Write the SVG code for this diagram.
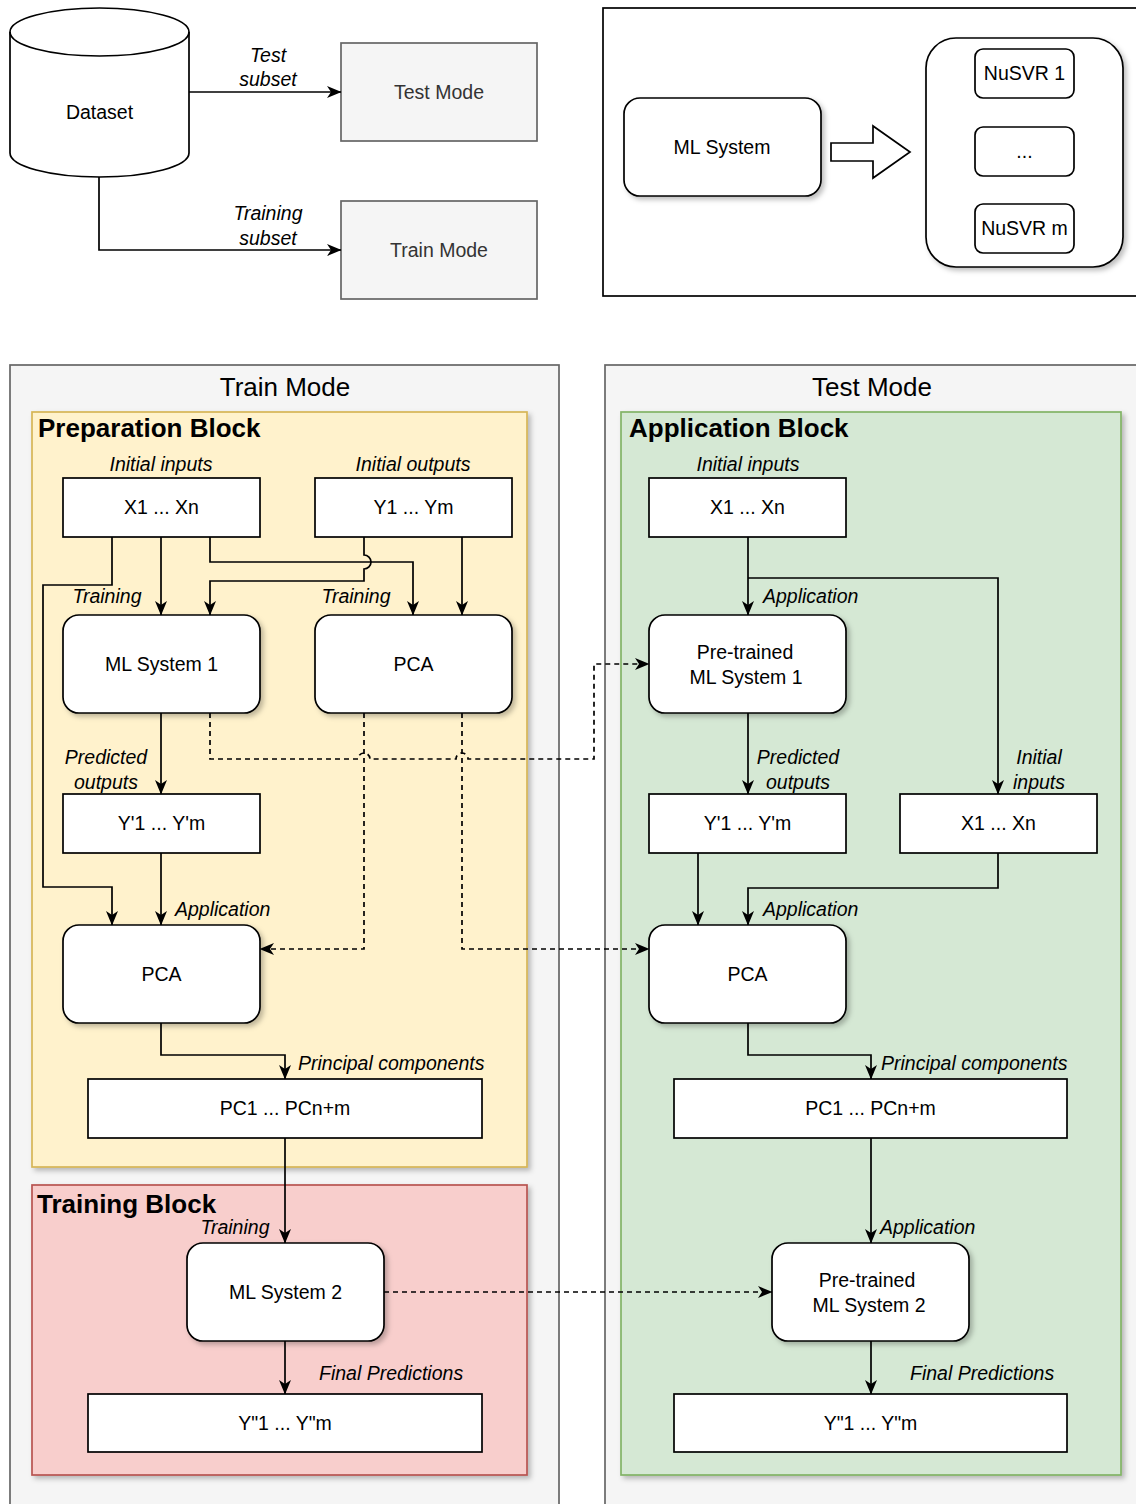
<svg xmlns="http://www.w3.org/2000/svg" width="1136" height="1504" viewBox="0 0 1136 1504">
<defs>
<filter id="sh" x="-10%" y="-10%" width="130%" height="130%">
<feDropShadow dx="3" dy="3" stdDeviation="2.5" flood-color="#000" flood-opacity="0.25"/>
</filter>
<marker id="ah" markerUnits="userSpaceOnUse" markerWidth="15" markerHeight="15" viewBox="0 0 15 15" refX="14" refY="7.5" orient="auto">
<path d="M0,1.5 L14.5,7.5 L0,13.5 L4,7.5 Z" fill="#000"/>
</marker>
</defs>
<style>
text{font-family:"Liberation Sans",Arial,Helvetica,sans-serif;font-size:19.5px;fill:#000}
.c{text-anchor:middle}
.i{font-style:italic}
.t{font-size:26px;font-weight:bold}
.h{font-size:26px}
.g{fill:#333}
.box{fill:#fff;stroke:#000;stroke-width:1.7}
.rr{fill:#fff;stroke:#000;stroke-width:1.7;filter:url(#sh)}
.mode{fill:#f5f5f5;stroke:#666;stroke-width:1.7}
.ln{fill:none;stroke:#000;stroke-width:1.7}
.a{marker-end:url(#ah)}
.d{stroke-dasharray:5 4}
</style>
<rect width="1136" height="1504" fill="#fff"/>

<!-- Top-left -->
<g id="dataset">
<path d="M10,32 A89.5,24 0 0 1 189,32 V153 A89.5,24 0 0 1 10,153 Z" class="box"/>
<path d="M10,32 A89.5,24 0 0 0 189,32" class="ln"/>
<text x="99.5" y="119" class="c">Dataset</text>
</g>
<g id="testModeBox">
<rect x="341" y="43" width="196" height="98" class="mode"/>
<text x="439" y="99" class="c g">Test Mode</text>
</g>
<g id="trainModeBox">
<rect x="341" y="201" width="196" height="98" class="mode"/>
<text x="439" y="257" class="c g">Train Mode</text>
</g>

<!-- Top-right -->
<g id="mlOverview">
<rect x="603" y="8" width="545" height="288" fill="#fff" stroke="#000" stroke-width="1.7"/>
</g>
<g id="mlSystem">
<rect x="624" y="98" width="197" height="98" rx="16" class="rr"/>
<text x="722" y="154" class="c">ML System</text>
</g>
<g id="blockArrow">
<polygon points="831,143 873,143 873,126 910,152 873,178 873,161 831,161" fill="#fff" stroke="#000" stroke-width="1.7"/>
</g>
<g id="nusvrGroup">
<rect x="926" y="38" width="197" height="229" rx="30" class="rr"/>
</g>
<g id="nusvr1">
<rect x="975" y="49" width="99" height="49" rx="8" class="box"/>
<text x="1024.5" y="80" class="c">NuSVR 1</text>
</g>
<g id="nusvrDots">
<rect x="975" y="127" width="99" height="49" rx="8" class="box"/>
<text x="1024.5" y="158" class="c">...</text>
</g>
<g id="nusvrM">
<rect x="975" y="204" width="99" height="49" rx="8" class="box"/>
<text x="1024.5" y="235" class="c">NuSVR m</text>
</g>

<!-- Containers -->
<g id="trainMode">
<rect x="10" y="365" width="549" height="1150" class="mode"/>
<text x="285" y="396" class="c h">Train Mode</text>
</g>
<g id="testMode">
<rect x="605" y="365" width="545" height="1150" class="mode"/>
<text x="872" y="396" class="c h">Test Mode</text>
</g>
<g id="preparationBlock">
<rect x="32" y="412" width="495" height="755" fill="#fff2cc" stroke="#d6b656" stroke-width="1.7" filter="url(#sh)"/>
<text x="38" y="437" class="t">Preparation Block</text>
</g>
<g id="trainingBlock">
<rect x="32" y="1185" width="495" height="290" fill="#f8cecc" stroke="#b85450" stroke-width="1.7" filter="url(#sh)"/>
<text x="37" y="1213" class="t">Training Block</text>
</g>
<g id="applicationBlock">
<rect x="621" y="412" width="500" height="1063" fill="#d5e8d4" stroke="#82b366" stroke-width="1.7" filter="url(#sh)"/>
<text x="629" y="437" class="t">Application Block</text>
</g>

<!-- Connectors -->
<g id="connectors">
<path d="M189,92 H341" class="ln a"/>
<path d="M99,177 V250 H341" class="ln a"/>
<path d="M112,537 V585 H43 V887 H112 V925" class="ln a"/>
<path d="M161,537 V615" class="ln a"/>
<path d="M210,537 V562 H413 V615" class="ln a"/>
<path d="M364,537 V555 A7,7 0 0 1 364,569 V581 H210 V615" class="ln a"/>
<path d="M462,537 V615" class="ln a"/>
<path d="M161,713 V794" class="ln a"/>
<path d="M161,853 V925" class="ln a"/>
<path d="M210,713 V759 H358 A6,6 0 0 1 370,759 H456 A6,6 0 0 1 468,759 H594 V664 H649" class="ln a d"/>
<path d="M364,713 V949 H260" class="ln a d"/>
<path d="M462,713 V949 H649" class="ln a d"/>
<path d="M161,1023 V1055 H285 V1079" class="ln a"/>
<path d="M285,1138 V1243" class="ln a"/>
<path d="M384,1292 H772" class="ln a d"/>
<path d="M285,1341 V1394" class="ln a"/>
<path d="M748,537 V615" class="ln a"/>
<path d="M748,578 H998 V794" class="ln a"/>
<path d="M748,713 V794" class="ln a"/>
<path d="M698,853 V925" class="ln a"/>
<path d="M998,853 V888 H748 V925" class="ln a"/>
<path d="M748,1023 V1055 H871 V1079" class="ln a"/>
<path d="M871,1138 V1243" class="ln a"/>
<path d="M871,1341 V1394" class="ln a"/>
</g>

<!-- Connector labels -->
<g id="labels">
<text x="268" y="62" class="c i">Test</text>
<text x="268" y="86" class="c i">subset</text>
<text x="268" y="220" class="c i">Training</text>
<text x="268" y="245" class="c i">subset</text>
<text x="161" y="471" class="c i">Initial inputs</text>
<text x="413" y="471" class="c i">Initial outputs</text>
<text x="107" y="603" class="c i">Training</text>
<text x="356" y="603" class="c i">Training</text>
<text x="106" y="764" class="c i">Predicted</text>
<text x="106" y="789" class="c i">outputs</text>
<text x="175" y="916" class="i">Application</text>
<text x="298" y="1070" class="i">Principal components</text>
<text x="235" y="1234" class="c i">Training</text>
<text x="319" y="1380" class="i">Final Predictions</text>
<text x="748" y="471" class="c i">Initial inputs</text>
<text x="763" y="603" class="i">Application</text>
<text x="798" y="764" class="c i">Predicted</text>
<text x="798" y="789" class="c i">outputs</text>
<text x="1039" y="764" class="c i">Initial</text>
<text x="1039" y="789" class="c i">inputs</text>
<text x="763" y="916" class="i">Application</text>
<text x="881" y="1070" class="i">Principal components</text>
<text x="880" y="1234" class="i">Application</text>
<text x="910" y="1380" class="i">Final Predictions</text>
</g>

<!-- Preparation block nodes -->
<g id="prepX">
<rect x="63" y="478" width="197" height="59" class="box"/>
<text x="161.5" y="514" class="c">X1 ... Xn</text>
</g>
<g id="prepY">
<rect x="315" y="478" width="197" height="59" class="box"/>
<text x="413.5" y="514" class="c">Y1 ... Ym</text>
</g>
<g id="mlSystem1">
<rect x="63" y="615" width="197" height="98" rx="16" class="rr"/>
<text x="161.5" y="671" class="c">ML System 1</text>
</g>
<g id="pcaTrain">
<rect x="315" y="615" width="197" height="98" rx="16" class="rr"/>
<text x="413.5" y="671" class="c">PCA</text>
</g>
<g id="prepYPred">
<rect x="63" y="794" width="197" height="59" class="box"/>
<text x="161.5" y="830" class="c">Y'1 ... Y'm</text>
</g>
<g id="pcaApplyTrain">
<rect x="63" y="925" width="197" height="98" rx="16" class="rr"/>
<text x="161.5" y="981" class="c">PCA</text>
</g>
<g id="prepPC">
<rect x="88" y="1079" width="394" height="59" class="box"/>
<text x="285" y="1115" class="c">PC1 ... PCn+m</text>
</g>
<g id="mlSystem2">
<rect x="187" y="1243" width="197" height="98" rx="16" class="rr"/>
<text x="285.5" y="1299" class="c">ML System 2</text>
</g>
<g id="trainFinal">
<rect x="88" y="1394" width="394" height="58" class="box"/>
<text x="285" y="1430" class="c">Y"1 ... Y"m</text>
</g>

<!-- Application block nodes -->
<g id="appX">
<rect x="649" y="478" width="197" height="59" class="box"/>
<text x="747.5" y="514" class="c">X1 ... Xn</text>
</g>
<g id="pretrained1">
<rect x="649" y="615" width="197" height="98" rx="16" class="rr"/>
<text x="745" y="659" class="c">Pre-trained</text>
<text x="746" y="684" class="c">ML System 1</text>
</g>
<g id="appYPred">
<rect x="649" y="794" width="197" height="59" class="box"/>
<text x="747.5" y="830" class="c">Y'1 ... Y'm</text>
</g>
<g id="appX2">
<rect x="900" y="794" width="197" height="59" class="box"/>
<text x="998.5" y="830" class="c">X1 ... Xn</text>
</g>
<g id="pcaTest">
<rect x="649" y="925" width="197" height="98" rx="16" class="rr"/>
<text x="747.5" y="981" class="c">PCA</text>
</g>
<g id="appPC">
<rect x="674" y="1079" width="393" height="59" class="box"/>
<text x="870.5" y="1115" class="c">PC1 ... PCn+m</text>
</g>
<g id="pretrained2">
<rect x="772" y="1243" width="197" height="98" rx="16" class="rr"/>
<text x="867" y="1287" class="c">Pre-trained</text>
<text x="869" y="1312" class="c">ML System 2</text>
</g>
<g id="appFinal">
<rect x="674" y="1394" width="393" height="58" class="box"/>
<text x="870.5" y="1430" class="c">Y"1 ... Y"m</text>
</g>
</svg>
